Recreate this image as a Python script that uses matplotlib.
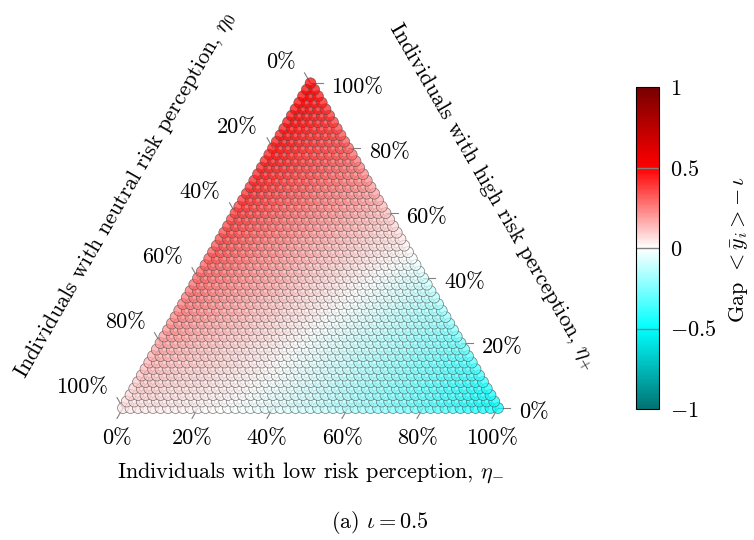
import numpy as np
import matplotlib
matplotlib.use("Agg")
import matplotlib.pyplot as plt
import matplotlib.tri as mtri
from matplotlib.colors import LinearSegmentedColormap, Normalize
from matplotlib.cm import ScalarMappable

plt.rcParams['font.family'] = 'serif'
plt.rcParams['font.serif'] = ['cmr10']
plt.rcParams['mathtext.fontset'] = 'cm'
plt.rcParams['axes.formatter.use_mathtext'] = True

# valeurs, par niveau de eta+ (0 %, 10 %, ... 100 %)
# dans chaque ligne : eta- = 0, 0.1, 0.2, ... jusqu'a 1 - eta+
eta_plus_levels = [0.0, 0.1, 0.2, 0.3, 0.4, 0.5, 0.6, 0.7, 0.8, 0.9, 1.0]
gap_p00 = [0.05, 0.04, 0.02, -0.01, -0.05, -0.10, -0.16, -0.23, -0.31, -0.40, -0.50]
gap_p10 = [0.12, 0.09, 0.06, 0.02, -0.03, -0.09, -0.16, -0.23, -0.31, -0.39]
gap_p20 = [0.19, 0.14, 0.09, 0.04, -0.02, -0.08, -0.14, -0.21, -0.28]
gap_p30 = [0.25, 0.19, 0.13, 0.07, 0.01, -0.05, -0.12, -0.18]
gap_p40 = [0.30, 0.23, 0.17, 0.10, 0.04, -0.02, -0.08]
gap_p50 = [0.35, 0.27, 0.20, 0.14, 0.08, 0.03]
gap_p60 = [0.39, 0.31, 0.24, 0.18, 0.12]
gap_p70 = [0.43, 0.35, 0.28, 0.22]
gap_p80 = [0.46, 0.38, 0.32]
gap_p90 = [0.48, 0.41]
gap_p100 = [0.50]
gap_rows = [gap_p00, gap_p10, gap_p20, gap_p30, gap_p40, gap_p50,
            gap_p60, gap_p70, gap_p80, gap_p90, gap_p100]

n_steps = 50  # pas de 2 % pour les marqueurs
tick_vals = [0, 20, 40, 60, 80, 100]
tick_labels = [f"{v}%" for v in tick_vals]
cbar_ticks = [-1, -0.5, 0, 0.5, 1]
cbar_labels = ['$-1$', '$-0.5$', '$0$', '$0.5$', '$1$']

# grille grossiere (eta-, eta+)
ga, gc, gv = [], [], []
for c, row in zip(eta_plus_levels, gap_rows):
    for k, v in enumerate(row):
        ga.append(k / 10)
        gc.append(c)
        gv.append(v)
ga, gc, gv = np.array(ga), np.array(gc), np.array(gv)
tri = mtri.Triangulation(ga, gc)
interp = mtri.CubicTriInterpolator(tri, gv, kind='geom')

# points des marqueurs, du bas vers le haut
pa, pc = [], []
for i in range(n_steps + 1):
    for j in range(n_steps + 1 - i):
        pa.append(j / n_steps)
        pc.append(i / n_steps)
pa, pc = np.array(pa), np.array(pc)
eps = 1e-7
qa = pa * (1 - eps) + eps / 3
qc = pc * (1 - eps) + eps / 3
pv = np.asarray(interp(qa, qc).filled(0.0))

h = np.sqrt(3) / 2
def to_xy(a, c):
    return a + c / 2, c * h

cmap = LinearSegmentedColormap.from_list(
    'gap', [(0.0, '#007373'), (0.25, '#00ffff'), (0.5, '#ffffff'),
            (0.75, '#ff0000'), (1.0, '#780000')])
norm = Normalize(-1, 1)

W, H = 754, 540
fig = plt.figure(figsize=(W / 100, H / 100), dpi=100)
x0, y0, tw = 123, 408, 375
ax = fig.add_axes([x0 / W, (H - y0) / H, tw / W, tw * h / H])
ax.set_xlim(0, 1)
ax.set_ylim(0, h)
ax.axis('off')

x, y = to_xy(pa, pc)
ax.scatter(x, y, c=pv, cmap=cmap, norm=norm, s=62, alpha=0.74,
           edgecolors=(0.3, 0.3, 0.3, 0.4), linewidths=0.5,
           clip_on=False, zorder=3)

tl = 12 / tw  # longueur des graduations
fs = 16
tick_col = '#808080'
for v, lab in zip(tick_vals, tick_labels):
    s = v / 100
    # eta- (bas)
    bx, by = to_xy(s, 0)
    ax.plot([bx, bx - 0.5 * tl], [by, by - h * tl], color=tick_col, lw=0.8,
            clip_on=False, zorder=1)
    ax.annotate(lab, (bx, by), xytext=(-6, -30), textcoords='offset pixels',
                ha='center', va='center', fontsize=fs)
    # eta+ (droite)
    rx, ry = to_xy(1 - s, s)
    ax.plot([rx, rx + tl], [ry, ry], color=tick_col, lw=0.8,
            clip_on=False, zorder=1)
    ax.annotate(lab, (rx, ry), xytext=(21, -4), textcoords='offset pixels',
                ha='left', va='center', fontsize=fs)
    # eta0 (gauche)
    lx, ly = to_xy(0, 1 - s)
    ax.plot([lx, lx - 0.5 * tl], [ly, ly + h * tl], color=tick_col, lw=0.8,
            clip_on=False, zorder=1)
    ax.annotate(lab, (lx, ly), xytext=(-15, 21), textcoords='offset pixels',
                ha='right', va='center', fontsize=fs)

ax.annotate(r'Individuals with low risk perception, $\eta_{-}$', (0.5, 0),
            xytext=(0, -65), textcoords='offset pixels',
            ha='center', va='center', fontsize=fs)
ax.annotate(r'Individuals with neutral risk perception, $\eta_0$', (0.25, h / 2),
            xytext=(-92, 50), textcoords='offset pixels', rotation=60,
            rotation_mode='anchor', ha='center', va='center', fontsize=fs)
ax.annotate(r'Individuals with high risk perception, $\eta_{+}$', (0.75, h / 2),
            xytext=(88, 49), textcoords='offset pixels', rotation=-60,
            rotation_mode='anchor', ha='center', va='center', fontsize=fs)

# barre de couleur
cb_x, cb_top, cb_bot, cb_w = 636, 87, 409, 23
cax = fig.add_axes([cb_x / W, (H - cb_bot) / H, cb_w / W, (cb_bot - cb_top) / H])
cbar = fig.colorbar(ScalarMappable(norm=norm, cmap=cmap), cax=cax, ticks=cbar_ticks)
cbar.ax.set_yticklabels(cbar_labels, fontsize=fs)
cbar.ax.tick_params(length=0, pad=8)
cbar.outline.set_linewidth(0.8)
for t in [-0.5, 0, 0.5]:
    cax.axhline(t, color='#808080', lw=1.0)
fig.text(738 / W, 1 - 250 / H, r'Gap $<\bar{y}_i>-\,\iota$', rotation=90,
         ha='center', va='center', fontsize=fs)

fig.text(380 / W, 1 - 522 / H, r'(a) $\iota = 0.5$', ha='center', va='center',
         fontsize=fs)

fig.savefig('out.png', dpi=100)
